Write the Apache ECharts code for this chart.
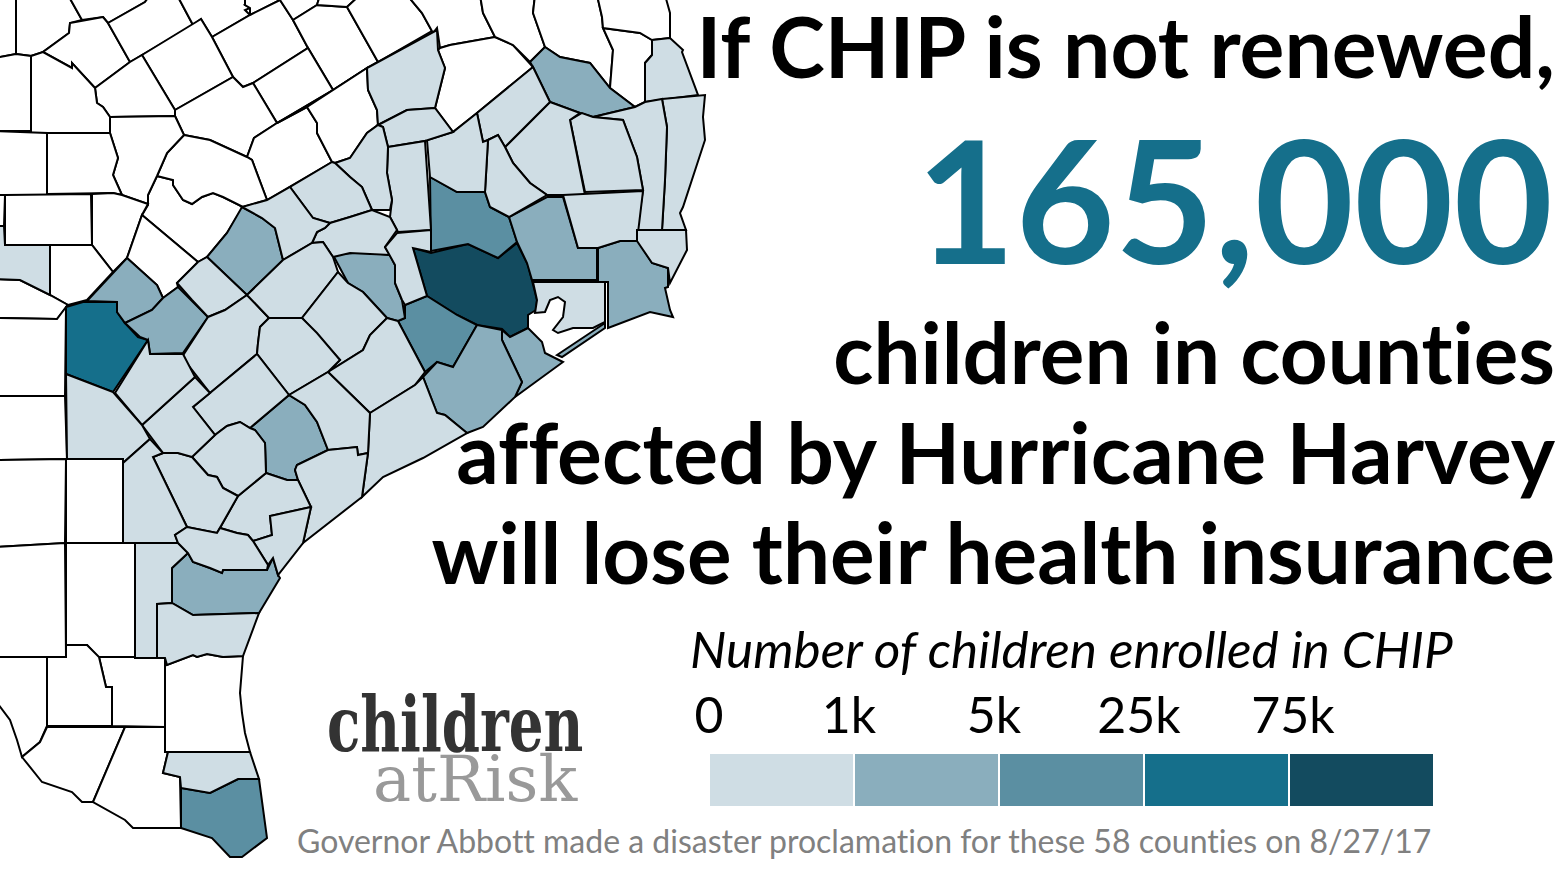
<!DOCTYPE html>
<html>
<head>
<meta charset="utf-8">
<title>CHIP</title>
<script src="https://cdn.jsdelivr.net/npm/echarts@6/dist/echarts.min.js"></script>
<style>
html, body { margin: 0; padding: 0; background: #fff; }
#main { width: 1562px; height: 876px; }
#main text { font-variant-ligatures: none !important; }
</style>
</head>
<body>
<div id="main"></div>
<script>
// county outlines (x, y in picture space)
var plainOutlines = [
    [[-5,-5],[16,-5],[16,54],[-5,58]],
    [[16,-5],[68,-5],[82,20],[70,23],[69,33],[43,52],[31,56],[16,54]],
    [[68,-5],[150,-5],[145,2],[108,23],[103,17],[82,20]],
    [[103,17],[108,23],[130,62],[95,88],[72,63],[72,68],[43,52],[69,33],[70,23]],
    [[108,23],[145,2],[150,-5],[177,-5],[193,25],[142,55],[130,62]],
    [[177,-5],[245,-5],[250,3],[245,5],[250,8],[245,10],[250,15],[212,37],[201,19],[193,25]],
    [[245,-5],[283,-5],[280,0],[250,15],[250,8],[245,5]],
    [[212,37],[250,15],[280,0],[293,20],[308,48],[253,83],[243,87],[233,77]],
    [[283,-5],[320,-5],[317,5],[293,20],[280,0]],
    [[293,20],[317,5],[347,7],[378,62],[367,68],[333,90],[308,48]],
    [[320,-5],[360,-5],[347,7],[317,5]],
    [[347,7],[360,-5],[407,-5],[422,13],[433,33],[437,28],[378,62]],
    [[253,83],[308,48],[333,90],[277,123]],
    [[142,55],[201,19],[212,37],[233,77],[175,110]],
    [[95,88],[130,62],[142,55],[175,110],[175,116],[110,117],[103,107],[97,103]],
    [[175,110],[233,77],[243,87],[253,83],[277,123],[254,138],[247,157],[210,140],[184,135],[175,116]],
    [[254,138],[277,123],[307,107],[317,123],[317,133],[332,162],[267,200],[252,160],[247,157]],
    [[277,123],[333,90],[367,68],[307,107]],
    [[307,107],[367,68],[368,90],[377,110],[378,125],[367,133],[350,158],[335,163],[332,162],[317,133],[317,123]],
    [[437,28],[440,48],[450,45],[495,37],[483,13],[480,-5],[407,-5],[422,13],[433,33]],
    [[440,48],[450,45],[495,37],[513,45],[533,67],[477,113],[453,132],[435,108],[445,68],[438,50]],
    [[480,-5],[535,-5],[533,13],[545,47],[530,62],[513,45],[495,37],[483,13]],
    [[535,-5],[597,-5],[602,17],[603,28],[613,50],[610,88],[590,63],[560,57],[545,47],[533,13]],
    [[603,28],[640,33],[652,40],[652,55],[645,63],[645,102],[635,107],[610,88],[613,50]],
    [[597,-5],[665,-5],[670,13],[670,38],[652,40],[640,33],[603,28],[602,17]],
    [[157,176],[173,180],[173,185],[183,200],[192,204],[202,197],[213,193],[223,197],[243,207],[227,233],[207,257],[198,262],[142,215],[148,205],[148,195]],
    [[184,135],[210,140],[247,157],[252,160],[267,200],[243,207],[223,197],[213,193],[202,197],[192,204],[183,200],[173,185],[173,180],[157,176],[167,153]],
    [[110,117],[175,116],[184,135],[167,153],[157,176],[148,195],[148,204],[122,195],[113,175],[118,158],[110,133]],
    [[31,56],[43,52],[72,68],[72,63],[95,88],[97,103],[103,107],[110,117],[110,133],[31,133]],
    [[-5,58],[16,54],[31,56],[31,131],[-5,131]],
    [[47,133],[110,133],[118,158],[113,175],[122,195],[113,193],[47,194]],
    [[-5,131],[47,133],[47,195],[-5,195]],
    [[5,195],[91,194],[92,245],[5,245]],
    [[-5,195],[5,195],[4,226],[-5,226]],
    [[92,194],[113,193],[122,195],[148,204],[142,215],[127,258],[113,272],[92,245]],
    [[142,215],[198,262],[177,283],[178,287],[163,298],[157,285],[127,258]],
    [[50,245],[92,245],[113,272],[87,300],[68,305],[50,295]],
    [[-5,279],[20,280],[50,295],[68,305],[57,319],[-5,318]],
    [[-5,318],[57,319],[66,307],[65,396],[-5,396]],
    [[-5,396],[65,396],[67,459],[-5,460]],
    [[66,459],[123,459],[123,543],[66,543]],
    [[-5,460],[66,459],[65,543],[-5,547]],
    [[66,543],[135,543],[135,657],[98,657],[87,645],[66,645]],
    [[-5,547],[65,543],[66,657],[-5,657]],
    [[165,657],[167,665],[193,655],[197,657],[207,654],[223,657],[243,656],[240,693],[242,713],[245,733],[250,752],[165,752]],
    [[99,657],[165,657],[165,727],[112,726],[112,687],[106,687]],
    [[47,657],[66,657],[66,645],[87,645],[99,657],[106,687],[112,687],[112,726],[47,726]],
    [[-5,657],[47,657],[47,726],[40,742],[22,757],[17,740],[10,720],[-5,700]],
    [[22,757],[42,782],[72,792],[82,802],[93,802],[125,727],[47,727],[40,742]],
    [[125,727],[165,727],[165,752],[168,752],[163,773],[180,777],[181,828],[133,828],[125,820],[93,802]]
];

var enrolledOutlines = {
    harris: [[413,248],[431,253],[468,244],[498,258],[517,243],[528,265],[537,300],[536,310],[528,315],[528,328],[510,337],[502,329],[477,325],[457,315],[427,296]],
    bexarSide: [[66,307],[83,302],[117,302],[117,312],[125,323],[138,337],[148,340],[113,392],[66,374]],
    montgomery: [[430,177],[457,192],[485,192],[490,207],[509,217],[517,242],[498,258],[468,244],[431,251]],
    fortBend: [[398,321],[405,318],[405,305],[427,296],[457,315],[477,325],[453,367],[437,362],[425,372]],
    cameron: [[181,788],[210,793],[238,779],[259,779],[267,838],[242,857],[230,857],[212,838],[181,828]],
    jasperSide: [[545,47],[560,57],[590,63],[610,88],[635,107],[593,117],[580,113],[550,102],[533,67],[530,62]],
    liberty: [[509,217],[547,197],[563,197],[578,248],[597,248],[597,280],[532,280],[527,263],[517,242]],
    jefferson: [[598,248],[620,241],[638,241],[652,263],[668,268],[668,287],[665,288],[670,310],[673,317],[650,312],[608,328],[608,282],[598,282]],
    galveston: [[502,330],[510,337],[528,328],[542,342],[545,353],[563,362],[515,397],[522,382],[502,340]],
    bolivar: [[557,355],[605,323],[605,328],[562,357]],
    brazoria: [[423,377],[437,362],[453,367],[477,325],[502,330],[502,340],[522,382],[515,397],[483,427],[467,433],[445,415],[437,413]],
    waller: [[333,255],[362,252],[390,255],[395,265],[395,283],[402,300],[405,318],[398,321],[387,318],[363,292],[348,283]],
    bastrop: [[242,207],[262,218],[275,228],[283,260],[247,295],[207,257],[227,233]],
    caldwell: [[127,258],[157,285],[163,298],[152,310],[125,323],[117,312],[117,302],[87,301]],
    guadalupe: [[178,287],[208,317],[183,353],[150,354],[148,340],[140,337],[125,323],[152,310],[163,298]],
    victoria: [[250,428],[289,395],[305,405],[317,422],[328,450],[297,465],[295,470],[298,480],[287,480],[266,473],[265,443],[255,430]],
    nueces: [[172,568],[188,553],[193,562],[210,568],[222,573],[223,570],[267,570],[273,558],[278,575],[280,578],[259,613],[193,615],[172,603]],
    a01: [[367,68],[437,30],[438,50],[445,68],[435,108],[407,110],[378,125],[377,110],[368,90]],
    a02: [[652,40],[670,38],[683,50],[682,52],[698,95],[645,102],[645,63],[652,55]],
    a03: [[662,99],[705,95],[703,117],[705,140],[683,207],[680,213],[686,230],[662,230],[665,180],[667,127]],
    a04: [[593,117],[635,107],[645,102],[662,99],[667,127],[665,180],[662,230],[637,230],[643,190],[637,157],[623,120]],
    a05: [[570,120],[582,113],[593,117],[623,120],[637,157],[643,190],[585,192]],
    a06: [[550,102],[580,113],[570,120],[585,195],[547,195],[530,183],[513,163],[505,147]],
    a07: [[477,113],[533,67],[550,102],[505,147],[498,135],[488,140],[483,142]],
    a08: [[488,140],[485,192],[490,207],[509,217],[547,195],[530,183],[513,163],[505,147],[498,135]],
    a09: [[453,132],[427,140],[430,177],[457,192],[485,192],[488,140],[483,142],[477,113]],
    a10: [[378,125],[407,110],[435,108],[453,132],[425,141],[388,147],[383,127]],
    a11: [[388,147],[425,141],[431,230],[398,232],[390,217],[392,200],[387,173]],
    a12: [[378,125],[383,127],[388,147],[387,173],[392,200],[390,210],[372,210],[362,187],[350,177],[335,163],[350,158],[367,133]],
    a13: [[290,187],[332,162],[335,163],[350,177],[362,187],[372,210],[350,217],[330,223],[313,218]],
    a14: [[330,223],[350,217],[372,210],[390,217],[397,230],[385,247],[390,255],[350,253],[333,257],[323,242],[312,243],[317,232],[325,228]],
    a15: [[242,207],[267,200],[290,187],[313,218],[330,223],[325,228],[317,232],[312,243],[283,260],[275,228],[262,218]],
    a16: [[-5,226],[4,226],[5,245],[50,245],[50,295],[20,280],[-5,279]],
    a17: [[177,283],[198,262],[207,257],[247,295],[225,310],[208,317],[192,300]],
    a18: [[208,317],[225,310],[247,295],[269,318],[260,327],[258,343],[257,354],[210,393],[182,357]],
    a19: [[247,295],[283,260],[312,243],[323,242],[333,257],[338,272],[302,318],[269,318]],
    a20: [[338,272],[348,283],[363,292],[387,318],[370,335],[363,350],[328,372],[340,360],[302,318]],
    a21: [[387,318],[398,321],[425,372],[415,385],[370,413],[328,372],[363,350],[370,335]],
    a22: [[397,233],[431,230],[431,252],[413,248],[427,296],[405,305],[402,300],[395,283],[395,265],[385,247]],
    a23: [[563,195],[643,191],[637,241],[620,241],[598,248],[578,248]],
    a24: [[637,230],[686,230],[687,250],[670,283],[668,268],[652,263],[637,241]],
    a25: [[533,282],[605,282],[605,322],[593,328],[573,328],[558,333],[553,330],[563,317],[565,302],[558,297],[550,300],[545,312],[535,313],[537,300]],
    a26: [[370,413],[415,385],[423,377],[437,413],[445,415],[467,433],[423,458],[383,477],[362,497],[368,453]],
    a27: [[269,318],[302,318],[317,333],[340,360],[328,372],[289,395],[257,354],[258,343],[260,327]],
    a28: [[257,354],[210,393],[193,407],[215,435],[227,426],[240,422],[250,428],[289,395]],
    a29: [[289,395],[328,372],[370,413],[368,453],[358,455],[357,447],[328,450],[317,422],[305,405]],
    a30: [[328,450],[357,447],[358,455],[368,453],[362,497],[303,543],[311,507],[298,480],[295,470],[297,465]],
    a31: [[266,473],[287,480],[298,480],[311,507],[270,516],[272,535],[253,541],[248,535],[237,533],[220,528],[238,496]],
    a32: [[311,507],[270,516],[272,535],[253,541],[268,565],[273,558],[278,575],[303,543]],
    a33: [[192,457],[215,435],[227,426],[240,422],[250,428],[255,430],[265,443],[266,473],[238,496],[223,488],[217,477],[208,475]],
    a34: [[153,457],[163,453],[178,453],[192,457],[208,475],[217,477],[223,488],[238,496],[217,533],[187,527]],
    a35: [[142,425],[195,377],[210,393],[193,407],[215,435],[192,457],[178,453],[163,453]],
    a36: [[115,393],[148,340],[150,354],[183,354],[195,377],[142,425]],
    a37: [[66,374],[113,392],[142,425],[150,439],[123,463],[123,459],[67,459]],
    a38: [[123,463],[150,439],[163,453],[153,457],[187,527],[175,535],[178,543],[135,543],[123,543]],
    a39: [[135,543],[178,543],[188,553],[172,568],[172,603],[157,604],[157,658],[135,658]],
    a40: [[175,535],[187,527],[217,533],[220,528],[237,533],[248,535],[253,541],[268,565],[267,570],[223,570],[222,573],[210,568],[193,562],[188,553],[178,543]],
    a41: [[157,604],[172,603],[193,615],[259,613],[243,656],[223,657],[207,654],[197,657],[193,655],[167,665],[165,658],[157,658]],
    a42: [[168,752],[250,752],[259,779],[238,779],[210,793],[181,788],[180,777],[163,773]]
};

var enrolledCounties = ['harris', 'bexarSide', 'montgomery', 'fortBend', 'cameron',
    'jasperSide', 'liberty', 'jefferson', 'galveston', 'bolivar', 'brazoria', 'waller', 'bastrop', 'caldwell', 'guadalupe', 'victoria', 'nueces',
    'a01', 'a02', 'a03', 'a04', 'a05', 'a06', 'a07', 'a08', 'a09', 'a10', 'a11', 'a12', 'a13', 'a14', 'a15', 'a16', 'a17', 'a18', 'a19', 'a20', 'a21',
    'a22', 'a23', 'a24', 'a25', 'a26', 'a27', 'a28', 'a29', 'a30', 'a31', 'a32', 'a33', 'a34', 'a35', 'a36', 'a37', 'a38', 'a39', 'a40', 'a41', 'a42'];
var enrolledValues = [95000, 40000, 15000, 12000, 14000,
    2500, 1500, 3000, 2800, 2800, 3200, 1300, 1400, 1200, 1900, 1600, 3500,
    600, 500, 300, 400, 700, 500, 450, 350, 550, 300, 650, 500, 400, 350, 600, 200, 500, 450, 650, 350, 500,
    600, 400, 450, 500, 700, 300, 350, 250, 400, 350, 300, 450, 300, 250, 400, 500, 300, 200, 250, 300, 150];

var binEdges = [0, 1000, 5000, 25000, 75000, 200000];
var binColors = ['#cfdde4', '#8aaebd', '#5b8fa2', '#156f8b', '#134b5f'];
var tickLabels = ['0', '1k', '5k', '25k', '75k'];

var headlineLines = ['children in counties', 'affected by Hurricane Harvey', 'will lose their health insurance'];

var features = [];
plainOutlines.forEach(function (ring, i) {
    addCounty('plain' + i, ring);
});
enrolledCounties.forEach(function (name) {
    addCounty(name, enrolledOutlines[name]);
});

function addCounty(name, ring) {
    var coords = ring.map(function (p) { return [p[0], 876 - p[1]]; });
    coords.push(coords[0]);
    features.push({
        type: 'Feature',
        properties: { name: name },
        geometry: { type: 'Polygon', coordinates: [coords] }
    });
}

echarts.registerMap('counties', { type: 'FeatureCollection', features: features });

var myChart = echarts.init(document.getElementById('main'), null, { renderer: 'svg' });

var pieces = binColors.map(function (c, i) {
    return { min: binEdges[i], max: binEdges[i + 1], color: c };
});

var seriesData = enrolledCounties.map(function (name, i) {
    return { name: name, value: enrolledValues[i] };
});

var FONT = 'Lato';
var textEls = [];

// y is the text baseline; graphic text is placed by its top so shift by the ascent
function addText(text, x, y, style, size, color, align, scaleX, family) {
    textEls.push({
        type: 'text',
        x: x,
        y: y - size * 0.89,
        scaleX: scaleX || 1,
        silent: true,
        style: {
            text: text,
            font: style + ' ' + size + 'px ' + (family || FONT),
            fill: color,
            textAlign: align || 'right'
        }
    });
}

addText('If CHIP is not renewed,', 1555, 78, 'bold', 84, '#000');
addText('165,000', 1553, 265, 'bold', 171.5, '#156f8b');
headlineLines.forEach(function (line, i) {
    addText(line, 1555, 384 + i * 100, 'bold', i == 1 ? 84 : 83.5, '#000');
});
addText('Number of children enrolled in CHIP', 690, 668, 'italic', 51.3, '#000', 'left');
var tickX = [709, 849, 994, 1139, 1293];
tickLabels.forEach(function (t, i) {
    addText(t, tickX[i], 733, 'normal', 50, '#000', 'center');
});
addText('Governor Abbott made a disaster proclamation for these 58 counties on 8/27/17', 297, 853, 'normal', 32, '#808080', 'left');
addText('children', 327, 754, 'bold', 76, '#333333', 'left', 0.72, '"DejaVu Serif"');
addText('atRisk', 373, 804, 'normal', 64, '#999999', 'left', 1, '"DejaVu Serif"');

var option = {
    backgroundColor: '#fff',
    animation: false,
    visualMap: {
        type: 'piecewise',
        orient: 'horizontal',
        left: 710,
        top: 754,
        padding: 0,
        itemWidth: 143,
        itemHeight: 52,
        itemGap: 2,
        itemSymbol: 'rect',
        showLabel: false,
        selectedMode: false,
        hoverLink: false,
        pieces: pieces,
        outOfRange: { color: '#fff' }
    },
    series: [{
        type: 'map',
        map: 'counties',
        silent: true,
        roam: false,
        aspectScale: 1,
        layoutCenter: ['50%', '50%'],
        layoutSize: 1562,
        boundingCoords: [[0, 876], [1562, 0]],
        label: { show: false },
        itemStyle: { areaColor: '#fff', borderColor: '#000', borderWidth: 2 },
        data: seriesData
    }],
    graphic: { elements: textEls }
};

option && myChart.setOption(option);
</script>
</body>
</html>
